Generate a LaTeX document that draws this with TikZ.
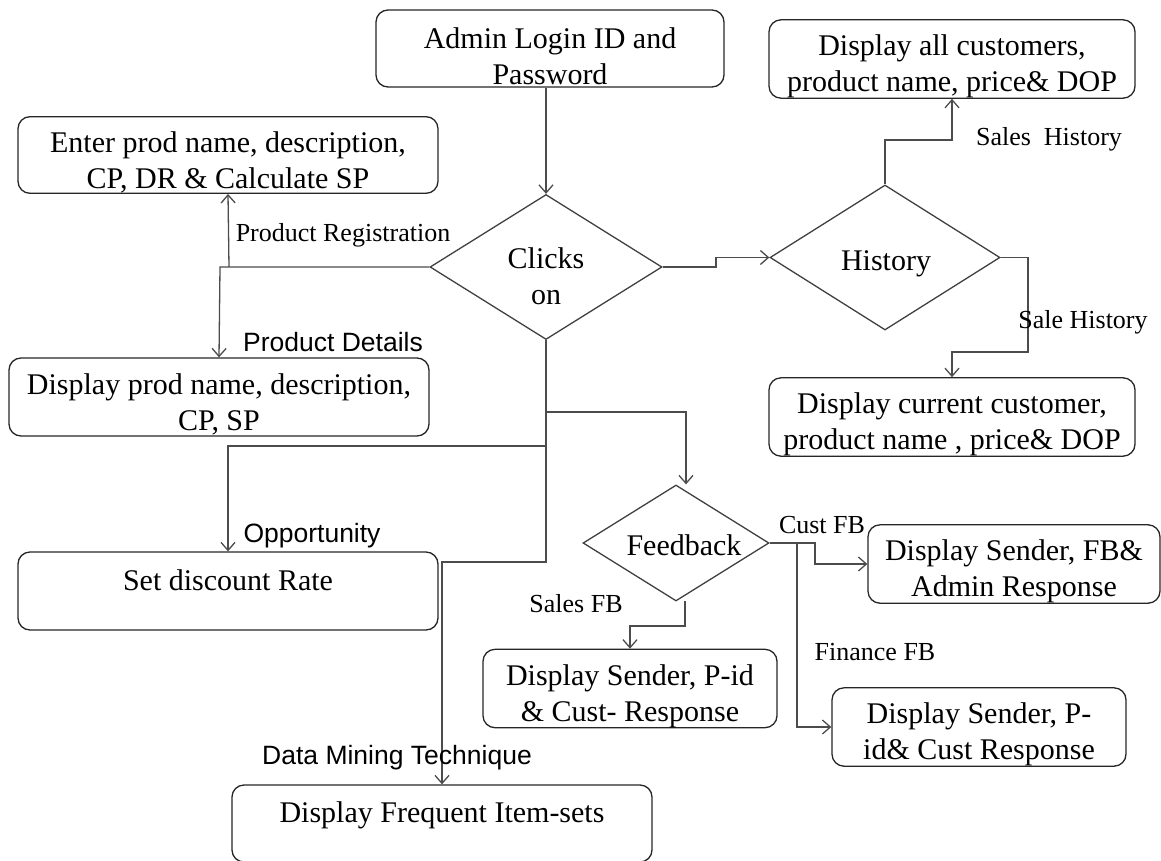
\documentclass[tikz,border=0pt]{standalone}
\usepackage{fontspec}
\setmainfont{Liberation Serif}
\newfontfamily\arialfont{Liberation Sans}
\usetikzlibrary{shapes.geometric,arrows.meta,calc}
\newcommand\mytstrut{\rule{0pt}{36pt}}
\begin{document}
\begin{tikzpicture}[x=1pt,y=-1pt,
  box/.style={draw=black!85,line width=1.3pt,rounded corners=12pt,inner sep=0pt,align=center,
    font=\fontsize{30}{36}\selectfont},
  dia/.style={draw=black!75,line width=1.3pt,diamond,inner sep=0pt,align=center,
    font=\fontsize{30}{36}\selectfont},
  conn/.style={draw=black!70,line width=1.3pt},
  arr/.style={conn,-{Straight Barb[length=8pt,width=14pt,line width=1.3pt]}},
  lbl/.style={font=\fontsize{26}{30}\selectfont,inner sep=0pt},
  albl/.style={font=\arialfont\fontsize{26.5}{30}\selectfont,inner sep=0pt},
  toptext/.style={text height=20pt,text depth=22pt}]
\useasboundingbox (0,0) rectangle (1161,861);
% boxes
\node[box,minimum width=348pt,minimum height=77pt] (admin) at (550,48.5) {\mytstrut Admin Login ID and\\Password};
\node[box,minimum width=366pt,minimum height=78pt] (dispall) at (952,59) {\mytstrut Display all customers,\\product name, price\& DOP};
\node[box,minimum width=420pt,minimum height=76pt] (enter) at (228,155) {\mytstrut Enter prod name, description,\\CP, DR \& Calculate SP};
\node[box,minimum width=420pt,minimum height=78pt] (prodd) at (219,397) {\mytstrut Display prod name, description,\\CP, SP};
\node[box,minimum width=366pt,minimum height=78pt] (dispcur) at (952,417) {\mytstrut Display current customer,\\product name , price\& DOP};
\node[box,toptext,minimum width=420pt,minimum height=78pt] (setdr) at (228,591) {Set discount Rate};
\node[box,minimum width=292pt,minimum height=74pt] (fbadmin) at (1014,564) {\mytstrut Display Sender, FB\&\\Admin Response};
\node[box,minimum width=294pt,minimum height=77pt] (salesfb) at (630,688.5) {\mytstrut Display Sender, P-id\\\& Cust- Response};
\node[box,minimum width=294pt,minimum height=76pt] (finfb) at (979,727) {\mytstrut Display Sender, P-\\id\& Cust Response};
\node[box,toptext,minimum width=420pt,minimum height=77pt] (freq) at (442,823.5) {Display Frequent Item-sets};
% diamonds
\node[dia,minimum width=232pt,minimum height=145pt] (clicks) at (546,267) {};
\node[inner sep=0pt,align=center,font=\fontsize{30}{36}\selectfont] (clickst) at (546,276) {Clicks\\on};
\node[dia,minimum width=230pt,minimum height=145pt] (history) at (885,257.5) {};
\node[inner sep=0pt,font=\fontsize{30}{36}\selectfont] (historyt) at (886,264) {History};
\node[dia,minimum width=186pt,minimum height=116pt] (fb) at (676,543) {};
\node[inner sep=0pt,font=\fontsize{30}{36}\selectfont] (fbt) at (684,545) {Feedback};
% coordinates
\coordinate (jl) at (220,267);
\coordinate (ju) at (229,267);
\coordinate (jr1) at (716,267);
\coordinate (jr2) at (716,257.5);
\coordinate (h1) at (885,140);
\coordinate (h2) at (952,140);
\coordinate (s1) at (1028,257.5);
\coordinate (s2) at (1028,352);
\coordinate (s3) at (952,352);
\coordinate (m1) at (546,412);
\coordinate (m2) at (686,412);
\coordinate (m3) at (546,446);
\coordinate (m4) at (228,446);
\coordinate (m5) at (546,562);
\coordinate (m6) at (442,562);
\coordinate (f1) at (815,543);
\coordinate (f2) at (815,564);
\coordinate (f3) at (797,543);
\coordinate (f4) at (797,727);
\coordinate (b0) at (685,601);
\coordinate (b1) at (685,626);
\coordinate (b2) at (630,626);
% connectors
\draw[arr] (admin.south -| clicks.north) -- (clicks.north);
\draw[arr] (clicks.west) -- (jl) -- (prodd.north);
\draw[arr] (ju) -- (enter.south);
\draw[arr] (clicks.east) -- (jr1) -- (jr2) -- (history.west);
\draw[arr] (history.north) -- (h1) -- (h2) -- (dispall.south);
\draw[arr] (history.east) -- (s1) -- (s2) -- (s3) -- (dispcur.north);
\draw[arr] (clicks.south) -- (m5) -- (m6) -- (freq.north);
\draw[arr] (m1) -- (m2) -- (m2 |- fb.north);
\draw[arr] (m3) -- (m4) -- (setdr.north);
\draw[arr] (fb.east) -- (f1) -- (f2) -- (fbadmin.west);
\draw[arr] (f3) -- (f4) -- (finfb.west);
\draw[arr] (b0) -- (b1) -- (b2) -- (salesfb.north);
% labels
\node[lbl] (l1) at (343,235) {Product Registration};
\node[albl] (l2) at (333,342) {Product Details};
\node[albl] (l3) at (312,536) {Opportunity};
\node[albl] (l4) at (397,758) {Data Mining Technique};
\node[lbl] (l5) at (1049,139) {Sales\ \ History};
\node[lbl] (l6) at (1083,322) {Sale History};
\node[lbl] (l7) at (822,525) {Cust FB};
\node[lbl] (l8) at (576,604) {Sales FB};
\node[lbl] (l9) at (875,652) {Finance FB};
\end{tikzpicture}
\end{document}
